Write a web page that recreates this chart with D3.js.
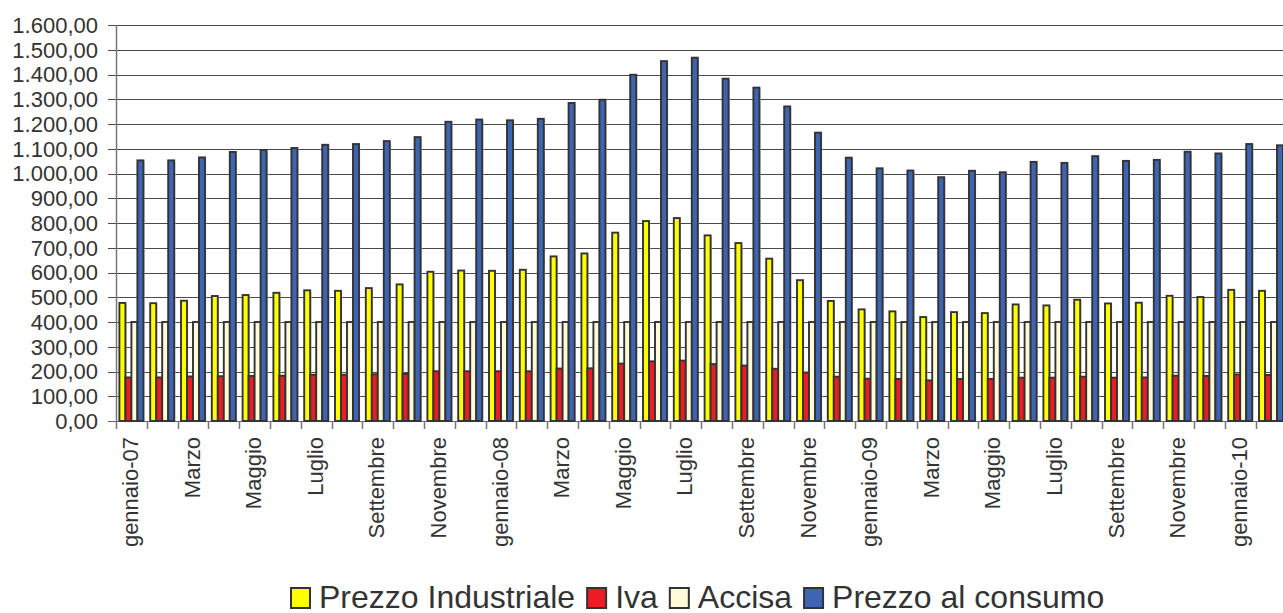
<!DOCTYPE html>
<html lang="it">
<head>
<meta charset="UTF-8">
<script src="https://cdn.jsdelivr.net/npm/d3@7"></script>
<style>
  body { margin: 0; background: #fff; }
  text { font-family: "Liberation Sans", Arial, sans-serif; fill: #333; }
</style>
</head>
<body>
<div id="chart"></div>
<script>
// mesi (38 gruppi, etichetta ogni due mesi)
var months = ["gennaio-07","febbraio-07","Marzo","aprile-07","Maggio","giugno-07","Luglio","agosto-07",
  "Settembre","ottobre-07","Novembre","dicembre-07",
  "gennaio-08","febbraio-08","Marzo ","aprile-08","Maggio ","giugno-08","Luglio ","agosto-08",
  "Settembre ","ottobre-08","Novembre ","dicembre-08",
  "gennaio-09","febbraio-09","Marzo  ","aprile-09","Maggio  ","giugno-09","Luglio  ","agosto-09",
  "Settembre  ","ottobre-09","Novembre  ","dicembre-09",
  "gennaio-10","febbraio-10"];

var seriesNames = ["Prezzo Industriale", "Iva", "Accisa", "Prezzo al consumo"];
var seriesColors = ["#ffff00", "#ed1c24", "#fffbd8", "#3d65b3"];

var prezzoIndustriale = [477,476,486,505,509,518,528,526,537,552,603,608,607,611,665,677,761,808,820,750,
  719,656,569,485,451,443,420,440,436,471,467,490,475,478,506,501,530,526];
var iva = [176,176,180,181,182,183,187,187,189,190,201,201,201,201,212,213,232,241,244,230,
  224,211,196,179,171,170,164,170,170,175,175,179,175,176,183,182,188,186];
var accisa = [400,400,400,400,400,400,400,400,400,400,400,400,400,400,400,400,400,400,400,400,
  400,400,400,400,400,400,400,400,400,400,400,400,400,400,400,400,400,400];
var prezzoConsumo = [1053,1053,1065,1087,1095,1103,1116,1119,1131,1147,1209,1218,1215,1221,1285,1298,1399,1454,1468,1383,
  1347,1271,1165,1064,1021,1012,985,1011,1005,1047,1043,1070,1051,1055,1088,1081,1119,1114];

var yTicks = [0,100,200,300,400,500,600,700,800,900,1000,1100,1200,1300,1400,1500,1600];

var W = 1283, H = 613;
var plotLeft = 116, plotTop = 25, plotBottom = 421;
var groupW = 30.8;

var table = months.map(function(m, i) {
  return { month: m, values: [prezzoIndustriale[i], iva[i], accisa[i], prezzoConsumo[i]] };
});

var svg = d3.select("#chart").append("svg")
  .attr("width", W)
  .attr("height", H);

var x0 = d3.scaleBand().domain(months).range([plotLeft, plotLeft + groupW * months.length]).padding(0);
var x1 = d3.scaleBand().domain(d3.range(4)).range([3.4, groupW - 3.4]).padding(0);
var y = d3.scaleLinear().domain([0, 1600]).range([plotBottom, plotTop]);

// griglia
svg.append("g").selectAll("line")
  .data(yTicks)
  .enter().append("line")
  .attr("x1", plotLeft - 8)
  .attr("x2", W)
  .attr("y1", d => Math.round(y(d)) + 0.5)
  .attr("y2", d => Math.round(y(d)) + 0.5)
  .attr("stroke", (d) => d == 0 ? "#666" : "#4a4a4a")
  .attr("stroke-width", 1.2);

// asse y
svg.append("line")
  .attr("x1", plotLeft + 0.5).attr("x2", plotLeft + 0.5)
  .attr("y1", plotTop).attr("y2", plotBottom + 1)
  .attr("stroke", "#777").attr("stroke-width", 1.5);

svg.append("g").selectAll("text")
  .data(yTicks)
  .enter().append("text")
  .attr("x", 98)
  .attr("y", d => y(d))
  .attr("dy", "0.36em")
  .attr("text-anchor", "end")
  .style("font-size", "22px")
  .text(d => d3.format(",.2f")(d).replace(/,/g, "#").replace(".", ",").replace(/#/g, "."));

// tacche asse x
svg.append("g").selectAll("line")
  .data(months)
  .enter().append("line")
  .attr("x1", d => Math.round(x0(d)) + 0.5)
  .attr("x2", d => Math.round(x0(d)) + 0.5)
  .attr("y1", plotBottom)
  .attr("y2", plotBottom + 8)
  .attr("stroke", "#777").attr("stroke-width", 1.5);

// barre
var groups = svg.append("g").selectAll("g")
  .data(table)
  .enter().append("g")
  .attr("transform", d => "translate(" + x0(d.month) + ",0)");

var bars = groups.selectAll("g")
  .data(d => d.values.map((v, k) => ({ k: k, v: v })))
  .enter();

// ombra leggera
bars.append("rect")
  .attr("x", d => x1(d.k) + 1.2)
  .attr("y", d => y(d.v) + 1.2)
  .attr("width", x1.bandwidth())
  .attr("height", d => plotBottom - y(d.v) - 1.2)
  .attr("fill", "#c8c8c8");

bars.append("rect")
  .attr("x", d => x1(d.k))
  .attr("y", d => y(d.v))
  .attr("width", x1.bandwidth())
  .attr("height", d => plotBottom - y(d.v))
  .attr("fill", d => seriesColors[d.k])
  .attr("stroke", "#333")
  .attr("stroke-width", 1.9);

// etichette mesi
svg.append("g").selectAll("text")
  .data(months.filter((m, i) => i % 2 == 0))
  .enter().append("text")
  .attr("transform", d => "translate(" + (x0(d) + x0.bandwidth() / 2) + "," + 437 + ") rotate(-90)")
  .attr("dy", "0.3em")
  .attr("text-anchor", "end")
  .style("font-size", "22px")
  .text(d => d.trim());

// legenda
var legend = svg.append("g");
var lx = 291;
seriesNames.forEach(function(name, k) {
  legend.append("rect")
    .attr("x", lx).attr("y", 588)
    .attr("width", 19).attr("height", 20)
    .attr("fill", seriesColors[k])
    .attr("stroke", "#333").attr("stroke-width", 2);
  var t = legend.append("text")
    .attr("x", lx + 28).attr("y", 607.5)
    .style("font-size", "32px")
    .text(name);
  lx += 28 + t.node().getComputedTextLength() + 12;
});
</script>
</body>
</html>
